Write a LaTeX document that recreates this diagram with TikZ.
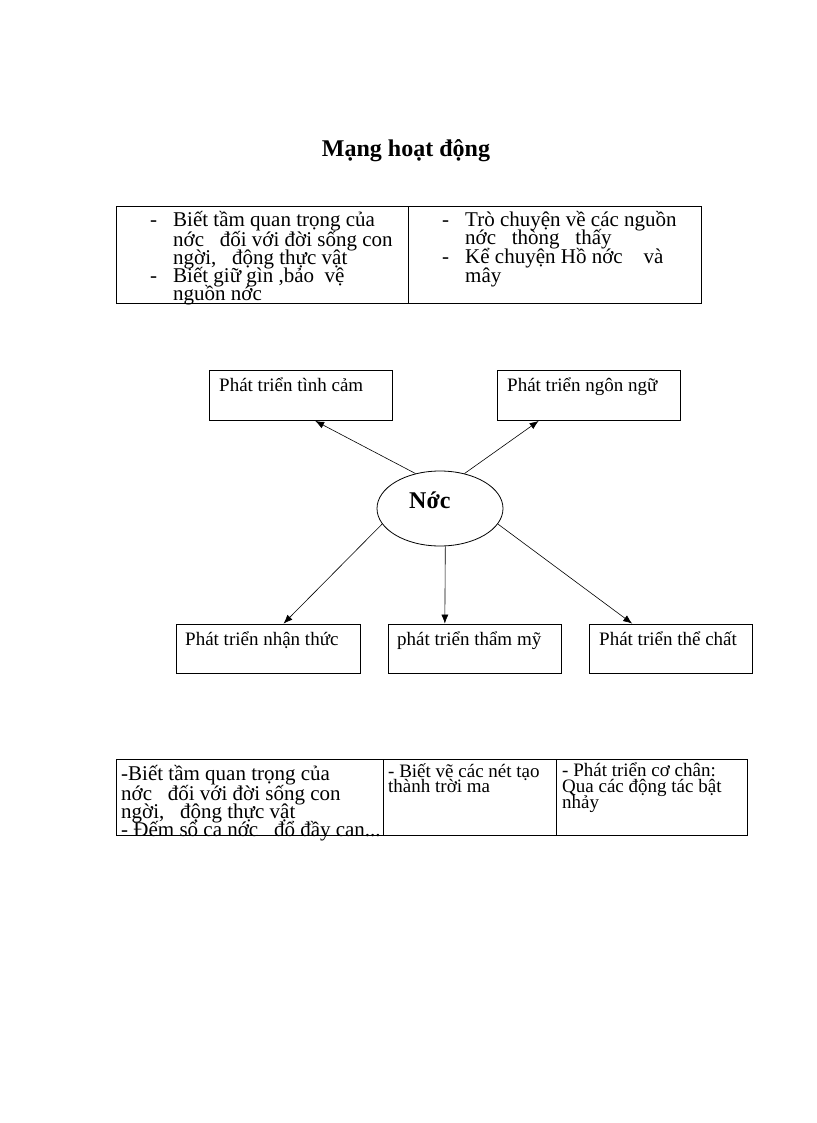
\documentclass[tikz,border=0pt]{standalone}
\usepackage{fontspec}
\setmainfont{Liberation Serif}
\usetikzlibrary{shapes.geometric,arrows.meta,positioning}

\begin{document}
\begin{tikzpicture}[x=1pt, y=-1pt,
    frame/.style={rectangle, draw, line width=0.8pt, inner sep=0pt},
    topic/.style={ellipse, draw, line width=0.8pt, minimum width=126pt, minimum height=75pt, inner sep=0pt},
    big line/.style={anchor=base west, inner sep=0pt, font=\fontsize{21}{22}\selectfont},
    small line/.style={anchor=base west, inner sep=0pt, font=\fontsize{19}{19}\selectfont},
    link/.style={-{Latex[length=9pt,width=7pt]}, line width=0.6pt}
]
    \useasboundingbox (0,0) rectangle (816,1123);

    % title
    \node[anchor=base, inner sep=0pt, font=\fontsize{24}{24}\selectfont\bfseries] (title) at (406,157) {Mạng hoạt động};

    % top table
    \node[frame, minimum width=292pt, minimum height=97pt] (goalL) at (262,254.5) {};
    \node[frame, minimum width=293pt, minimum height=97pt] (goalR) at (554.5,254.5) {};
    \node[big line] (dashL1) at (150,227) {-};
    \node[big line] (dashL2) at (150,282) {-};
    \foreach \y/\txt [count=\i] in {227/{Biết tầm quan trọng của}, 246/{nớc\ \ \ đối với đời sống con},
            264/{ngời,\ \ \ động thực vật}, 282/{Biết giữ gìn ,bảo\ \ vệ}, 300/{nguồn nớc}}
        \node[big line] (goalL\i) at (173,\y) {\txt};
    \node[big line] (dashR1) at (442,226) {-};
    \node[big line] (dashR2) at (442,263) {-};
    \foreach \y/\txt [count=\i] in {226/{Trò chuyện về các nguồn}, 244/{nớc\ \ \ thòng\ \ \ thấy},
            263/{Kể chuyện Hồ nớc\ \ \ \ và}, 282/{mây}}
        \node[big line] (goalR\i) at (465,\y) {\txt};

    % centre topic
    \node[topic] (noc) at (440,508.5) {};
    \node[anchor=base west, inner sep=0pt, font=\fontsize{24}{24}\selectfont\bfseries] (nocText) at (409,508) {Nớc};

    % development areas
    \node[frame, minimum width=183pt, minimum height=50pt] (emo) at (300.5,395.5) {};
    \node[frame, minimum width=183pt, minimum height=50pt] (lang) at (588.5,395.5) {};
    \node[frame, minimum width=184pt, minimum height=49pt] (cog) at (268,648.5) {};
    \node[frame, minimum width=173pt, minimum height=49pt] (art) at (474.5,648.5) {};
    \node[frame, minimum width=163pt, minimum height=49pt] (phys) at (670.5,648.5) {};
    \node[small line] (emoText) at (219,391) {Phát triển tình cảm};
    \node[small line] (langText) at (507,391) {Phát triển ngôn ngữ};
    \node[small line] (cogText) at (185,645) {Phát triển nhận thức};
    \node[small line] (artText) at (397,645) {phát triển thẩm mỹ};
    \node[small line] (physText) at (599,645) {Phát triển thể chất};

    % arrows from the topic
    \draw[link] (noc.125) -- (emo.-60);
    \draw[link] (noc.55) -- (lang.-153);
    \draw[link] (noc.195) -- (cog.58);
    \draw[link] (noc.-82) -- (art.140);
    \draw[link] (noc.-15) -- (phys.147);

    % bottom table
    \node[frame, minimum width=267pt, minimum height=76pt] (actL) at (249.5,797) {};
    \node[frame, minimum width=173pt, minimum height=76pt] (actM) at (469.5,797) {};
    \node[frame, minimum width=191pt, minimum height=76pt] (actR) at (651.5,797) {};
    \foreach \y/\txt [count=\i] in {780/{-Biết tầm quan trọng của}, 800/{nớc\ \ \ đối với đời sống con},
            818/{ngời,\ \ \ động thực vật}, 836/{- Đếm số ca nớc\ \ \ đổ đầy can...}}
        \node[big line] (actL\i) at (121,\y) {\txt};
    \foreach \y/\txt [count=\i] in {777/{- Biết vẽ các nét tạo}, 792/{thành trời ma}}
        \node[small line] (actM\i) at (388,\y) {\txt};
    \foreach \y/\txt [count=\i] in {776/{- Phát triển cơ chân:}, 792/{Qua các động tác bật}, 808/{nhảy}}
        \node[small line] (actR\i) at (562,\y) {\txt};
\end{tikzpicture}
\end{document}
